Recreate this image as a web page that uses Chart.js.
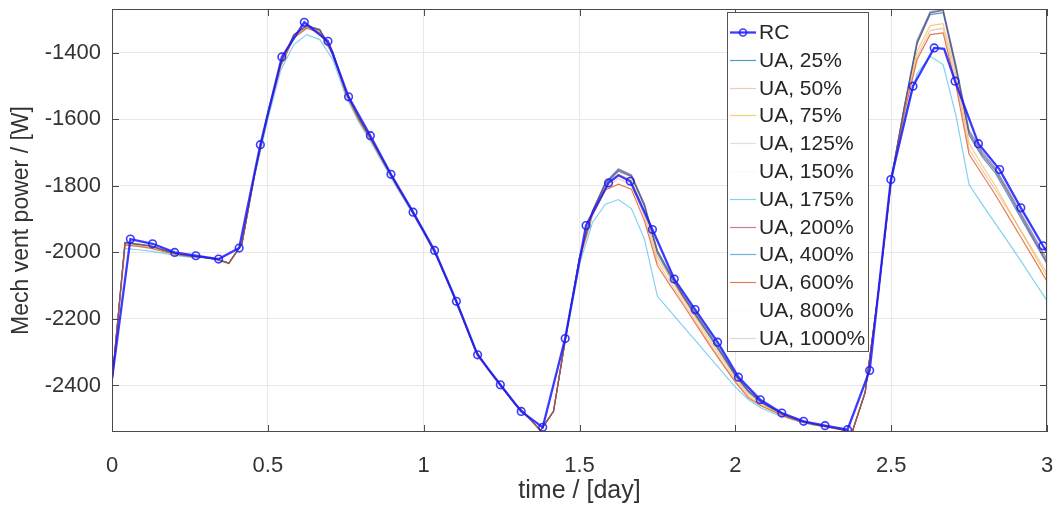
<!DOCTYPE html>
<html>
<head>
<meta charset="utf-8">
<script src="https://cdn.jsdelivr.net/npm/chart.js@4.4.1/dist/chart.umd.min.js"></script>
<style>
  html, body { margin: 0; padding: 0; background: #fff; }
</style>
</head>
<body>
<canvas id="chart" width="1058" height="508"></canvas>
<script>
// time axis ticks (days) and power ticks (W)
const xTicks = [0, 0.5, 1, 1.5, 2, 2.5, 3];
const yTicks = [-2400, -2200, -2000, -1800, -1600, -1400];

// RC model
const rcTime = [0, 0.059, 0.130, 0.201, 0.269, 0.342, 0.408, 0.476, 0.545, 0.617,
  0.693, 0.759, 0.829, 0.895, 0.966, 1.035, 1.105, 1.173, 1.246, 1.313,
  1.382, 1.454, 1.521, 1.593, 1.625, 1.663, 1.734, 1.804, 1.871, 1.943,
  2.010, 2.080, 2.149, 2.219, 2.288, 2.360, 2.431, 2.499, 2.570, 2.638,
  2.670, 2.705, 2.780, 2.848, 2.916, 2.987, 3.0];
const rcPower = [-2380, -1960, -1974, -2000, -2010, -2020, -1987, -1676, -1412, -1308,
  -1365, -1532, -1649, -1765, -1879, -1994, -2147, -2308, -2398, -2478,
  -2526, -2259, -1919, -1791, -1768, -1786, -1931, -2080, -2172, -2270,
  -2375, -2443, -2483, -2508, -2521, -2533, -2355, -1781, -1500, -1385,
  -1388, -1485, -1673, -1751, -1866, -1980, -2000];

// UA models, hourly samples
const uaHours = [0, 1, 2, 3, 4, 5, 6, 7, 8, 9, 10, 11, 12, 13, 14, 15, 16, 17, 18, 19,
  20, 21, 22, 23, 24, 25, 26, 27, 28, 29, 30, 31, 32, 33, 34, 35, 36, 37, 38, 39,
  40, 41, 42, 43, 44, 45, 46, 47, 48, 49, 50, 51, 52, 53, 54, 55, 56, 57, 58, 59,
  60, 61, 62, 63, 64, 65, 66, 67, 68, 69, 70, 71, 72];

const ua25 = [-2390, -1972, -1977, -1982, -1994, -2005, -2011, -2014, -2020, -2032,
  -1975, -1761, -1582, -1432, -1348, -1321, -1333, -1399, -1517, -1597,
  -1663, -1734, -1802, -1868, -1937, -2010, -2100, -2196, -2295, -2352,
  -2403, -2453, -2493, -2535, -2478, -2239, -2016, -1877, -1795, -1756,
  -1772, -1862, -2003, -2072, -2136, -2194, -2252, -2311, -2371, -2419,
  -2452, -2474, -2493, -2507, -2516, -2523, -2531, -2540, -2420, -2125,
  -1780, -1568, -1372, -1285, -1279, -1452, -1648, -1712, -1760, -1828,
  -1898, -1966, -2035];
const ua50 = [-2390, -1976, -1980, -1986, -1996, -2006, -2012, -2015, -2020, -2032,
  -1975, -1762, -1585, -1437, -1352, -1325, -1337, -1402, -1520, -1600,
  -1665, -1735, -1804, -1869, -1938, -2011, -2101, -2197, -2296, -2353,
  -2404, -2454, -2494, -2536, -2478, -2240, -2020, -1885, -1808, -1778,
  -1795, -1892, -2028, -2090, -2150, -2210, -2272, -2330, -2385, -2432,
  -2460, -2478, -2495, -2508, -2517, -2524, -2531, -2540, -2420, -2125,
  -1784, -1578, -1410, -1332, -1326, -1482, -1690, -1752, -1810, -1872,
  -1935, -1998, -2062];
const ua75 = [-2390, -1974, -1978, -1984, -1995, -2006, -2011, -2015, -2020, -2032,
  -1975, -1762, -1585, -1435, -1350, -1322, -1335, -1400, -1518, -1598,
  -1664, -1734, -1803, -1868, -1938, -2011, -2101, -2197, -2296, -2353,
  -2404, -2454, -2494, -2536, -2478, -2240, -2018, -1880, -1800, -1765,
  -1782, -1878, -2015, -2078, -2140, -2200, -2262, -2320, -2377, -2425,
  -2456, -2476, -2494, -2507, -2517, -2524, -2531, -2540, -2420, -2125,
  -1782, -1572, -1395, -1318, -1312, -1465, -1672, -1738, -1798, -1868,
  -1937, -2005, -2072];
const ua125 = [-2390, -1971, -1976, -1981, -1993, -2004, -2010, -2014, -2020, -2032,
  -1975, -1760, -1581, -1431, -1346, -1319, -1331, -1398, -1516, -1596,
  -1662, -1733, -1802, -1867, -1937, -2010, -2100, -2196, -2295, -2352,
  -2403, -2453, -2493, -2535, -2478, -2239, -2015, -1876, -1792, -1752,
  -1770, -1858, -1998, -2068, -2133, -2191, -2248, -2308, -2369, -2417,
  -2451, -2473, -2492, -2506, -2516, -2523, -2531, -2540, -2420, -2125,
  -1780, -1566, -1368, -1280, -1273, -1445, -1640, -1705, -1753, -1820,
  -1890, -1960, -2030];
const ua150 = [-2390, -1970, -1975, -1980, -1993, -2004, -2010, -2014, -2020, -2032,
  -1975, -1760, -1580, -1430, -1345, -1318, -1330, -1397, -1515, -1595,
  -1662, -1733, -1802, -1867, -1937, -2010, -2100, -2196, -2295, -2352,
  -2403, -2453, -2493, -2535, -2478, -2239, -2015, -1875, -1790, -1751,
  -1769, -1856, -1996, -2066, -2131, -2189, -2246, -2306, -2368, -2416,
  -2450, -2472, -2492, -2506, -2516, -2523, -2531, -2540, -2420, -2125,
  -1780, -1565, -1366, -1277, -1270, -1442, -1637, -1702, -1750, -1817,
  -1887, -1957, -2027];
const ua175 = [-2395, -1988, -1992, -1996, -2003, -2010, -2014, -2016, -2021, -2034,
  -1976, -1768, -1600, -1452, -1375, -1345, -1360, -1420, -1530, -1608,
  -1672, -1742, -1810, -1874, -1942, -2014, -2103, -2198, -2297, -2354,
  -2405, -2455, -2495, -2536, -2478, -2245, -2035, -1910, -1855, -1841,
  -1868, -1960, -2132, -2177, -2223, -2268, -2314, -2359, -2405, -2442,
  -2468, -2485, -2498, -2510, -2519, -2525, -2532, -2540, -2421, -2130,
  -1795, -1595, -1462, -1410, -1435, -1590, -1796, -1855, -1912, -1968,
  -2026, -2086, -2145];
const ua200 = [-2390, -1970, -1975, -1980, -1993, -2004, -2010, -2014, -2020, -2032,
  -1975, -1760, -1580, -1430, -1345, -1318, -1330, -1397, -1515, -1595,
  -1662, -1733, -1802, -1867, -1937, -2010, -2100, -2196, -2295, -2352,
  -2403, -2453, -2493, -2535, -2478, -2239, -2015, -1875, -1791, -1752,
  -1770, -1857, -1997, -2067, -2132, -2190, -2247, -2307, -2368, -2416,
  -2450, -2472, -2492, -2506, -2516, -2523, -2531, -2540, -2420, -2125,
  -1780, -1565, -1370, -1280, -1272, -1445, -1640, -1705, -1752, -1820,
  -1890, -1960, -2030];
const ua400 = [-2390, -1970, -1975, -1980, -1993, -2004, -2010, -2014, -2020, -2032,
  -1975, -1760, -1580, -1430, -1345, -1318, -1330, -1397, -1515, -1595,
  -1662, -1733, -1802, -1867, -1937, -2010, -2100, -2196, -2295, -2352,
  -2403, -2453, -2493, -2535, -2478, -2239, -2015, -1875, -1789, -1748,
  -1766, -1854, -1994, -2063, -2128, -2186, -2243, -2303, -2366, -2414,
  -2450, -2472, -2492, -2506, -2516, -2523, -2531, -2540, -2420, -2125,
  -1780, -1563, -1362, -1278, -1270, -1438, -1632, -1697, -1745, -1812,
  -1882, -1951, -2020];
const ua600 = [-2390, -1978, -1982, -1988, -1998, -2007, -2012, -2015, -2020, -2033,
  -1975, -1763, -1587, -1440, -1355, -1326, -1340, -1405, -1522, -1602,
  -1666, -1736, -1805, -1869, -1939, -2012, -2101, -2197, -2296, -2353,
  -2404, -2454, -2494, -2536, -2478, -2241, -2022, -1888, -1812, -1795,
  -1810, -1905, -2040, -2100, -2158, -2218, -2278, -2335, -2390, -2437,
  -2462, -2480, -2496, -2509, -2518, -2525, -2532, -2540, -2420, -2126,
  -1786, -1583, -1420, -1345, -1340, -1500, -1705, -1765, -1825, -1890,
  -1955, -2020, -2087];
const ua800 = [-2390, -1970, -1975, -1980, -1993, -2004, -2010, -2014, -2020, -2032,
  -1975, -1760, -1580, -1430, -1345, -1318, -1330, -1397, -1515, -1595,
  -1662, -1733, -1802, -1867, -1937, -2010, -2100, -2196, -2295, -2352,
  -2403, -2453, -2493, -2535, -2478, -2239, -2015, -1875, -1790, -1750,
  -1768, -1855, -1995, -2065, -2130, -2188, -2245, -2305, -2367, -2415,
  -2450, -2472, -2492, -2506, -2516, -2523, -2531, -2540, -2420, -2125,
  -1780, -1565, -1365, -1274, -1268, -1440, -1635, -1700, -1748, -1815,
  -1885, -1955, -2025];
const ua1000 = [-2390, -1970, -1975, -1980, -1993, -2004, -2010, -2014, -2020, -2032,
  -1975, -1760, -1580, -1430, -1345, -1318, -1330, -1397, -1515, -1595,
  -1662, -1733, -1802, -1867, -1937, -2010, -2100, -2196, -2295, -2352,
  -2403, -2453, -2493, -2535, -2478, -2239, -2015, -1875, -1790, -1750,
  -1768, -1855, -1995, -2065, -2130, -2188, -2245, -2305, -2367, -2415,
  -2450, -2472, -2492, -2506, -2516, -2523, -2531, -2540, -2420, -2125,
  -1780, -1565, -1365, -1275, -1268, -1440, -1635, -1700, -1748, -1815,
  -1885, -1955, -2025];

const uaLabels = ['UA, 25%', 'UA, 50%', 'UA, 75%', 'UA, 125%', 'UA, 150%', 'UA, 175%',
  'UA, 200%', 'UA, 400%', 'UA, 600%', 'UA, 800%', 'UA, 1000%'];
const uaSeries = [ua25, ua50, ua75, ua125, ua150, ua175, ua200, ua400, ua600, ua800, ua1000];
const uaColors = [
  'rgba(0,114,189,0.7)',
  'rgba(217,83,25,0.32)',
  'rgba(237,177,32,0.6)',
  'rgba(126,47,142,0.18)',
  'rgba(119,172,48,0.05)',
  'rgba(77,190,238,0.7)',
  'rgba(162,20,47,0.55)',
  'rgba(0,114,189,0.55)',
  'rgba(217,83,25,0.75)',
  'rgba(237,177,32,0.05)',
  'rgba(126,47,142,0.22)'
];

const toPoints = (xs, ys) => xs.map((x, i) => ({ x: x, y: ys[i] }));

// line vertices of RC that carry no circle (ends, sharp peak corners)
const rcPlain = [0, 24, 40, rcTime.length - 1];

const datasets = [{
  label: 'RC',
  data: toPoints(rcTime, rcPower),
  borderColor: 'rgba(25,25,255,0.85)',
  borderWidth: 2.3,
  pointRadius: ctx => rcPlain.includes(ctx.dataIndex) ? 0 : 3.8,
  pointBorderWidth: 1.6,
  pointBorderColor: 'rgba(25,25,255,0.85)',
  pointBackgroundColor: 'rgba(0,0,0,0)',
  tension: 0,
  order: 0
}];
uaSeries.forEach((s, i) => {
  datasets.push({
    label: uaLabels[i],
    data: toPoints(uaHours.map(h => h / 24), s),
    borderColor: uaColors[i],
    borderWidth: 1.2,
    pointRadius: 0,
    tension: 0,
    // later series on top, as in the original plot
    order: 100 - i
  });
});

// box with inward ticks, drawn over the lines
const axesBox = {
  id: 'axesBox',
  afterDatasetsDraw(chart) {
    const { ctx, chartArea: a, scales } = chart;
    ctx.save();
    ctx.strokeStyle = '#4a4a4a';
    ctx.lineWidth = 1;
    ctx.strokeRect(a.left + 0.5, a.top + 0.5, a.right - a.left - 1, a.bottom - a.top - 1);
    ctx.beginPath();
    yTicks.forEach(v => {
      const py = Math.round(scales.y.getPixelForValue(v)) + 0.5;
      ctx.moveTo(a.left, py); ctx.lineTo(a.left + 7, py);
      ctx.moveTo(a.right, py); ctx.lineTo(a.right - 7, py);
    });
    xTicks.forEach(v => {
      const px = Math.round(scales.x.getPixelForValue(v)) + 0.5;
      ctx.moveTo(px, a.bottom); ctx.lineTo(px, a.bottom - 7);
      ctx.moveTo(px, a.top); ctx.lineTo(px, a.top + 7);
    });
    ctx.stroke();
    ctx.restore();
  }
};

// legend box inside the plot, top right
const insideLegend = {
  id: 'insideLegend',
  afterDraw(chart) {
    const ctx = chart.ctx;
    const x0 = 727, y0 = 12, w = 141, h = 339, step = 27.8;
    ctx.save();
    ctx.fillStyle = '#fff';
    ctx.fillRect(x0, y0, w, h);
    ctx.strokeStyle = '#555';
    ctx.lineWidth = 1;
    ctx.strokeRect(x0 + 0.5, y0 + 0.5, w, h);
    ctx.font = '21px "Liberation Sans", Arial, sans-serif';
    ctx.textBaseline = 'middle';
    chart.data.datasets.forEach((ds, i) => {
      const y = Math.round(y0 + 20 + i * step) + 0.5;
      ctx.strokeStyle = ds.borderColor;
      ctx.lineWidth = ds.borderWidth;
      ctx.beginPath();
      ctx.moveTo(x0 + 3, y);
      ctx.lineTo(x0 + 29, y);
      ctx.stroke();
      if (i === 0) {
        ctx.lineWidth = 1.6;
        ctx.beginPath();
        ctx.arc(x0 + 16, y, 3.5, 0, Math.PI * 2);
        ctx.stroke();
      }
      ctx.fillStyle = '#262626';
      ctx.fillText(ds.label, x0 + 32, y + 1);
    });
    ctx.restore();
  }
};

Chart.defaults.font.family = '"Liberation Sans", Arial, sans-serif';
Chart.defaults.color = '#333';

new Chart(document.getElementById('chart').getContext('2d'), {
  type: 'line',
  data: { datasets: datasets },
  options: {
    responsive: false,
    animation: false,
    layout: { padding: { top: 9, right: 11, left: 0, bottom: 0 } },
    plugins: { legend: { display: false }, tooltip: { enabled: false } },
    scales: {
      x: {
        type: 'linear',
        min: 0,
        max: 3,
        afterBuildTicks: s => { s.ticks = xTicks.map(v => ({ value: v })); },
        afterFit: s => { s.height = 76; s.paddingLeft = 0; s.paddingRight = 0; },
        ticks: { callback: v => String(v), font: { size: 22 }, padding: 21, maxRotation: 0 },
        grid: { color: '#e8e8e8', drawTicks: false },
        border: { display: false },
        title: { display: true, text: 'time / [day]', font: { size: 25 }, padding: { top: 0, bottom: 2 } }
      },
      y: {
        type: 'linear',
        min: -2540,
        max: -1268,
        afterBuildTicks: s => { s.ticks = yTicks.map(v => ({ value: v })); },
        afterFit: s => { s.width = 112; s.paddingTop = 0; s.paddingBottom = 0; },
        ticks: { callback: v => String(v), font: { size: 22 }, padding: 11 },
        grid: { color: '#e8e8e8', drawTicks: false },
        border: { display: false },
        title: { display: true, text: 'Mech vent power / [W]', font: { size: 23 }, padding: { top: 8, bottom: 0 } }
      }
    }
  },
  plugins: [axesBox, insideLegend]
});
</script>
</body>
</html>
